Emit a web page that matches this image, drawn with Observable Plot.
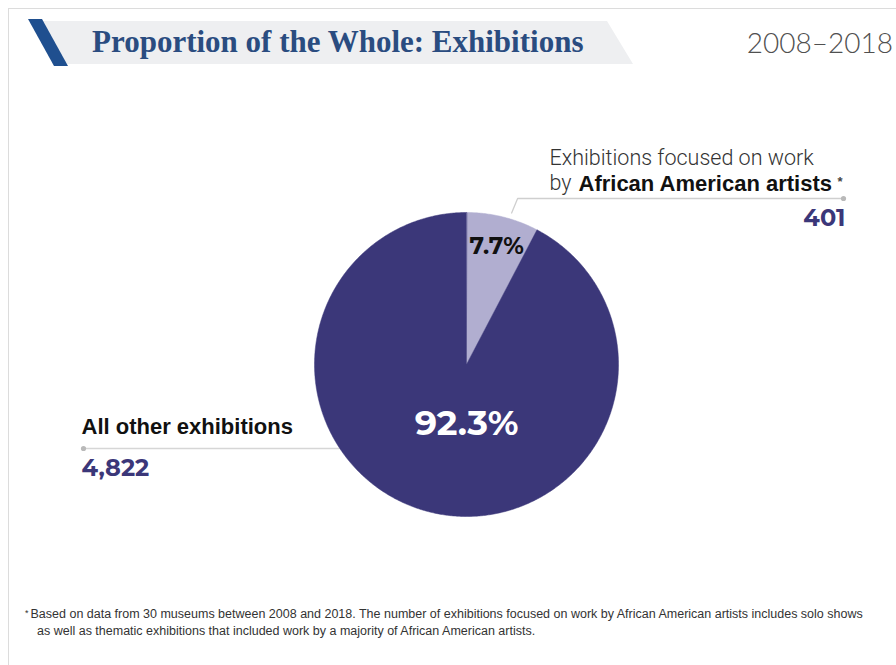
<!DOCTYPE html>
<html>
<head>
<meta charset="utf-8">
<script src="https://cdn.jsdelivr.net/npm/d3@7"></script>
<script src="https://cdn.jsdelivr.net/npm/@observablehq/plot@0.6"></script>
<style>
  html, body { margin: 0; padding: 0; background: #fff; }
  #page { position: relative; width: 896px; height: 665px; overflow: hidden; background: #fff; }
  .frame-top { position: absolute; left: 8px; top: 8px; width: 888px; height: 1px; background: #dcdcdc; }
  .frame-left { position: absolute; left: 8px; top: 8px; width: 1px; height: 657px; background: #dcdcdc; }
  .banner { position: absolute; left: 30px; top: 21px; width: 603px; height: 43px; background: #eeeff1;
            clip-path: polygon(0 0, 577px 0, 603px 43px, 26px 43px); }
  .slash { position: absolute; left: 28px; top: 19px; width: 40px; height: 47px; background: #1f4f8f;
           clip-path: polygon(0 0, 14px 0, 40px 47px, 26px 47px); }
  .title { position: absolute; left: 92px; top: 24px; font-family: "Liberation Serif", serif; font-weight: bold;
           font-size: 31px; color: #2a4c80; white-space: nowrap; letter-spacing: 0px; }
  .years { position: absolute; right: 3px; top: 25px; font-family: Lato, Roboto, sans-serif; font-weight: 300;
           font-size: 28px; color: #505050; white-space: nowrap; }
  #chart { position: absolute; left: 0; top: 80px; }
  .note { position: absolute; left: 25px; top: 605px; width: 870px; font-family: "Liberation Sans Narrow", "Arial Narrow", sans-serif;
          font-size: 12.5px; line-height: 17px; color: #333; white-space: nowrap; }
  .note .ast { font-size: 9px; vertical-align: 2px; padding-right: 2px; }
</style>
</head>
<body>
<div id="page">
  <div class="frame-top"></div>
  <div class="frame-left"></div>
  <div class="banner"></div>
  <div class="slash"></div>
  <div class="title">Proportion of the Whole: Exhibitions</div>
  <div class="years">2008–2018</div>
  <div id="chart"></div>
  <div class="note"><span class="ast">*</span>Based on data from 30 museums between 2008 and 2018. The number of exhibitions focused on work by African American artists includes solo shows<br><span style="padding-left:12px">as well as thematic exhibitions that included work by a majority of African American artists.</span></div>
</div>
<script>
// ---- data ----
const categories = ["African American artists", "All other exhibitions"];
const counts = [401, 4822];
const shares = ["7.7%", "92.3%"];
const countLabels = ["401", "4,822"];
const colors = ["#b1aed0", "#3b3779"];

// ---- geometry ----
const W = 896, H = 510;
const R = 152;               // pie radius in px (1 data unit = 1 px)
const cx = 466, cy = 284;    // pie center inside svg

const pie = d3.pie().sort(null).value(d => d.count)(
  categories.map((c, i) => ({cat: c, count: counts[i]}))
);

// polygon points for each slice (angle 0 = 12 o'clock, clockwise)
const pt = (a, r) => ({x: r * Math.sin(a), y: r * Math.cos(a)});
const slicePts = [];
pie.forEach(s => {
  slicePts.push({cat: s.data.cat, ...pt(0, 0)});
  const n = Math.max(2, Math.ceil((s.endAngle - s.startAngle) / (Math.PI / 360)));
  for (let k = 0; k <= n; k++) {
    const a = s.startAngle + (s.endAngle - s.startAngle) * k / n;
    slicePts.push({cat: s.data.cat, ...pt(a, R)});
  }
});

const light = pie[0], dark = pie[1];
const aL = light.startAngle + (light.endAngle - light.startAngle) * 0.6;
const p0 = pt(aL, R * 1.04);
const rightLeader = [p0, {x: p0.x + 6, y: 166}, {x: 377, y: 166}];
const leftY = -84;
const leftEdge = -Math.sqrt(R * R - leftY * leftY);
const leftLeader = [{x: -383, y: leftY}, {x: leftEdge, y: leftY}];
const pLabel = pt(light.startAngle + (light.endAngle - light.startAngle) * 0.52, R * 0.8);

const sans = "'Liberation Sans', Arial, sans-serif";
const light300 = "Roboto, 'Liberation Sans', sans-serif";
const geo = "Montserrat, 'Open Sans', Roboto, sans-serif";

const chart = Plot.plot({
  width: W, height: H,
  margin: 0,
  x: {domain: [-cx, W - cx], range: [0, W], axis: null},
  y: {domain: [cy - H, cy], range: [H, 0], axis: null},
  color: {domain: categories, range: colors},
  style: {background: "transparent", overflow: "visible"},
  marks: [
    // leader lines
    Plot.line(rightLeader, {x: "x", y: "y", stroke: "#cfcfcf", strokeWidth: 1.3}),
    Plot.line(leftLeader, {x: "x", y: "y", stroke: "#d6d6d6", strokeWidth: 1.3}),
    Plot.dot([rightLeader[2], leftLeader[0]], {x: "x", y: "y", r: 2.6, fill: "#b9b9b9"}),
    // pie slices
    Plot.line(slicePts, {x: "x", y: "y", z: "cat", fill: "cat", stroke: "cat", strokeWidth: 0.5, curve: "linear-closed"}),
    // percentage labels
    Plot.text([shares[0]], {x: () => pLabel.x, y: () => pLabel.y, text: d => d,
      fontFamily: geo, fontWeight: 700, fontSize: 23.5, fill: "#111", letterSpacing: -0.3}),
    Plot.text([shares[1]], {x: () => 0, y: () => -R * 0.39, text: d => d,
      fontFamily: geo, fontWeight: 700, fontSize: 35, fill: "#fff", letterSpacing: 1}),
    // right annotation
    Plot.text(["Exhibitions focused on work"], {x: () => 83, y: () => 206, text: d => d, textAnchor: "start",
      fontFamily: light300, fontWeight: 300, fontSize: 21.5, fill: "#333"}),
    Plot.text(["by"], {x: () => 83, y: () => 181, text: d => d, textAnchor: "start",
      fontFamily: light300, fontWeight: 300, fontSize: 21.5, fill: "#333"}),
    Plot.text([categories[0]], {x: () => 112, y: () => 181, text: d => d, textAnchor: "start",
      fontFamily: sans, fontWeight: 700, fontSize: 22, fill: "#111"}),
    Plot.text(["*"], {x: () => 371, y: () => 183, text: d => d, textAnchor: "start",
      fontFamily: sans, fontWeight: 700, fontSize: 13, fill: "#444"}),
    Plot.text([countLabels[0]], {x: () => 379, y: () => 146, text: d => d, textAnchor: "end",
      fontFamily: geo, fontWeight: 700, fontSize: 24, fill: "#3b3779", letterSpacing: 0.5}),
    // left annotation
    Plot.text([categories[1]], {x: () => -385, y: () => -62, text: d => d, textAnchor: "start",
      fontFamily: sans, fontWeight: 700, fontSize: 22, fill: "#111"}),
    Plot.text([countLabels[1]], {x: () => -385, y: () => -104, text: d => d, textAnchor: "start",
      fontFamily: geo, fontWeight: 700, fontSize: 24, fill: "#3b3779", letterSpacing: 1})
  ]
});
document.getElementById("chart").appendChild(chart);
</script>
</body>
</html>
